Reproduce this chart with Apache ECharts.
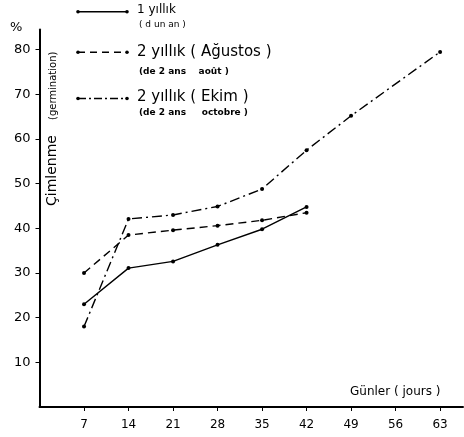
<!DOCTYPE html>
<html><head><meta charset="utf-8">
<script src="https://cdn.jsdelivr.net/npm/echarts@6/dist/echarts.min.js"></script>
<style>html,body{margin:0;padding:0;background:#fff}#c{width:464px;height:437px}</style>
</head><body><div id="c"></div>
<script>
const days = [7, 14, 21, 28, 35, 42, 49, 56, 63];
const xTicks = ['7','14','21','28','35','42','49','56','63'];
const yTicks = ['10','20','30','40','50','60','70','80'];
const seriesNames = ['1 yıllık', '2 yıllık (Ağustos)', '2 yıllık (Ekim)'];
const oneYearDays = [7, 14, 21, 28, 35, 42];
const oneYear = [23, 31.1, 32.6, 36.3, 39.8, 44.8];
const augustDays = [7, 14, 21, 28, 35, 42];
const august = [30, 38.5, 39.6, 40.6, 41.8, 43.5];
const octoberDays = [7, 14, 21, 28, 35, 42, 49, 63];
const october = [18, 42.1, 43.0, 44.9, 48.8, 57.5, 65.2, 79.5];

const font = 'DejaVu Sans';
const pair = (xs, ys) => xs.map((x, i) => [x, ys[i]]);
const mk = (name, xs, ys, dash) => ({
  name, type: 'line', data: pair(xs, ys),
  symbol: 'circle', symbolSize: 4,
  itemStyle: { color: '#000' },
  lineStyle: { color: '#000', width: 1.4, type: dash },
  animation: false
});

function legendItem(y, dash) {
  return [
    { type: 'line', shape: { x1: 78, y1: y, x2: 127, y2: y },
      style: { stroke: '#000', lineWidth: 1.4, lineDash: dash } },
    { type: 'circle', shape: { cx: 78, cy: y, r: 1.8 }, style: { fill: '#000' } },
    { type: 'circle', shape: { cx: 127, cy: y, r: 1.8 }, style: { fill: '#000' } }
  ];
}

const chart = echarts.init(document.getElementById('c'));
chart.setOption({
  backgroundColor: '#fff',
  animation: false,
  grid: { left: 39.5, right: 1, top: 29.6, bottom: 30 },
  xAxis: {
    type: 'value', min: 0, max: 66.6, interval: 7,
    axisLine: { show: true, lineStyle: { color: '#000', width: 2 } },
    axisTick: { show: true, length: 4, lineStyle: { color: '#000', width: 1 } },
    splitLine: { show: false },
    axisLabel: {
      showMinLabel: false, showMaxLabel: false, margin: 12,
      color: '#000', fontFamily: font, fontSize: 12,
      formatter: v => xTicks[days.indexOf(v)] || ''
    }
  },
  yAxis: {
    type: 'value', min: 0, max: 84.5, interval: 10,
    axisLine: { show: true, lineStyle: { color: '#000', width: 2 } },
    axisTick: { show: true, length: 4, lineStyle: { color: '#000', width: 1 } },
    splitLine: { show: false },
    axisLabel: {
      showMinLabel: false, showMaxLabel: false, margin: 9,
      color: '#000', fontFamily: font, fontSize: 13,
      formatter: v => yTicks[v / 10 - 1] || ''
    }
  },
  series: [
    mk(seriesNames[0], oneYearDays, oneYear, 'solid'),
    mk(seriesNames[1], augustDays, august, [8, 5]),
    mk(seriesNames[2], octoberDays, october, [10, 4, 2, 4])
  ],
  graphic: [
    { type: 'text', left: 10, top: 21, style: { text: '%', fill: '#000', font: '13px ' + font } },
    { type: 'text', x: 52, y: 206, rotation: Math.PI / 2,
      style: { text: 'Çimlenme', fill: '#000', font: '14px ' + font, align: 'left', verticalAlign: 'middle' } },
    { type: 'text', x: 53, y: 120, rotation: Math.PI / 2,
      style: { text: '(germination)', fill: '#000', font: '10px ' + font, align: 'left', verticalAlign: 'middle' } },
    ...legendItem(11.7, null),
    ...legendItem(52.3, [7, 5]),
    ...legendItem(98.5, [8, 3, 2, 3]),
    { type: 'text', left: 137, top: 4, style: { text: seriesNames[0], fill: '#000', font: '12px ' + font } },
    { type: 'text', left: 139, top: 20, style: { text: '( d un an )', fill: '#000', font: '9px ' + font } },
    { type: 'text', left: 137, top: 45, style: { text: '2 yıllık ( Ağustos )', fill: '#000', font: '15px ' + font } },
    { type: 'text', left: 139, top: 67, style: { text: '(de 2 ans    août )', fill: '#000', font: 'bold 9px ' + font } },
    { type: 'text', left: 137, top: 90, style: { text: '2 yıllık ( Ekim )', fill: '#000', font: '15px ' + font } },
    { type: 'text', left: 139, top: 108, style: { text: '(de 2 ans     octobre )', fill: '#000', font: 'bold 9px ' + font } },
    { type: 'text', left: 350, top: 386, style: { text: 'Günler ( jours )', fill: '#000', font: '12px ' + font } }
  ]
});
</script></body></html>
